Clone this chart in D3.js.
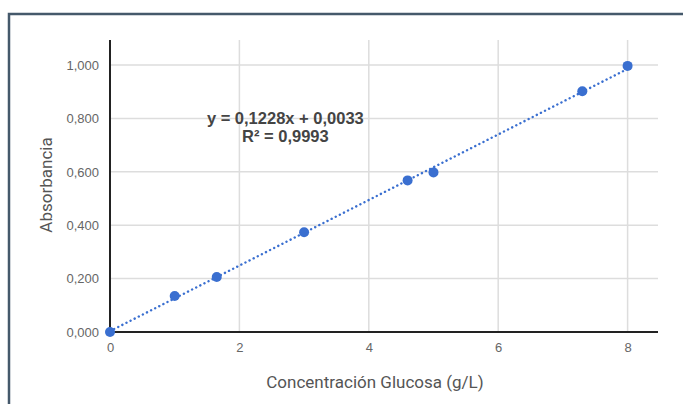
<!DOCTYPE html>
<html lang="es">
<head>
  <meta charset="utf-8">
  <title>Curva de calibración glucosa</title>
  <script src="https://cdn.jsdelivr.net/npm/d3@7/dist/d3.min.js"></script>
  <style>
    body { margin: 0; background: #fff; }
    svg { display: block; font-family: Roboto, "Liberation Sans", Arial, sans-serif; }
    .tick text { fill: #666; font-size: 13px; }
    .grid line { stroke: #ddd; stroke-width: 1.5; }
  </style>
</head>
<body>
<div id="chart"></div>
<script>
  // datos
  var concentracion = [0, 1, 1.65, 3, 4.6, 5, 7.3, 8];
  var absorbancia = [0.000, 0.135, 0.206, 0.374, 0.568, 0.598, 0.902, 0.997];
  var xTicks = [0, 2, 4, 6, 8];
  var yTicks = [0, 0.2, 0.4, 0.6, 0.8, 1.0];
  var pendiente = 0.1228, intercepto = 0.0033;
  var ecuacion = ["y = 0,1228x + 0,0033", "R² = 0,9993"];

  var W = 683, H = 404;
  var margin = { top: 40, right: 25, bottom: 72, left: 110 };
  var width = W - margin.left - margin.right,
    height = H - margin.top - margin.bottom;

  var svg = d3.select('#chart').append('svg')
    .attr('width', W).attr('height', H);

  // marco
  svg.append('path')
    .attr('d', 'M9,' + H + ' V14 H' + W)
    .attr('fill', 'none')
    .attr('stroke', '#45596b')
    .attr('stroke-width', 2.5);

  var x = d3.scaleLinear().domain([0, 8.47]).range([0, width]);
  var y = d3.scaleLinear().domain([0, 1.094]).range([height, 0]);

  var g = svg.append('g')
    .attr('transform', 'translate(' + margin.left + ',' + margin.top + ')');

  g.append('g').attr('class', 'grid')
    .selectAll('line').data(yTicks.slice(1)).enter().append('line')
    .attr('x1', 0).attr('x2', width)
    .attr('y1', d => y(d)).attr('y2', d => y(d));

  g.append('g').attr('class', 'grid')
    .selectAll('line').data(xTicks.slice(1)).enter().append('line')
    .attr('y1', 0).attr('y2', height)
    .attr('x1', d => x(d)).attr('x2', d => x(d));

  var yAxis = g.append('g')
    .call(d3.axisLeft(y).tickValues(yTicks).tickSize(0).tickPadding(11)
      .tickFormat(d => d3.format(',.3f')(d).replace('.', ',')));
  yAxis.select('.domain').remove();

  var xAxis = g.append('g')
    .attr('transform', 'translate(0,' + height + ')')
    .call(d3.axisBottom(x).tickValues(xTicks).tickSize(0).tickPadding(11));
  xAxis.select('.domain').remove();

  // ejes
  g.append('line').attr('x1', 0).attr('x2', width).attr('y1', height).attr('y2', height)
    .attr('stroke', '#222').attr('stroke-width', 2);
  g.append('line').attr('x1', 0).attr('x2', 0).attr('y1', 0).attr('y2', height)
    .attr('stroke', '#222').attr('stroke-width', 2);

  // línea de tendencia
  var xs = [0, d3.max(concentracion)];
  g.append('line')
    .attr('x1', x(xs[0])).attr('y1', y(pendiente * xs[0] + intercepto))
    .attr('x2', x(xs[1])).attr('y2', y(pendiente * xs[1] + intercepto))
    .attr('stroke', '#3a6fd0').attr('stroke-width', 2.4)
    .attr('stroke-dasharray', '0.1,4.5').attr('stroke-linecap', 'round');

  g.selectAll('circle').data(concentracion).enter().append('circle')
    .attr('cx', d => x(d))
    .attr('cy', (d, i) => y(absorbancia[i]))
    .attr('r', 5)
    .attr('fill', '#3a6fd0');

  var ex = x(2.71);
  g.append('text')
    .attr('x', ex).attr('y', y(0.78))
    .attr('text-anchor', 'middle')
    .attr('fill', '#444').attr('font-weight', 'bold').attr('font-size', 16.5)
    .style('font-family', '"Liberation Sans", Arial, sans-serif')
    .selectAll('tspan').data(ecuacion).enter().append('tspan')
    .attr('x', ex).attr('dy', (d, i) => i ? 18 : 0)
    .text(d => d);

  svg.append('text')
    .attr('x', 375).attr('y', 388)
    .attr('text-anchor', 'middle')
    .attr('fill', '#555').attr('font-size', 17)
    .text('Concentración Glucosa (g/L)');

  svg.append('text')
    .attr('transform', 'translate(52,185) rotate(-90)')
    .attr('text-anchor', 'middle')
    .attr('fill', '#555').attr('font-size', 17)
    .text('Absorbancia');
</script>
</body>
</html>
